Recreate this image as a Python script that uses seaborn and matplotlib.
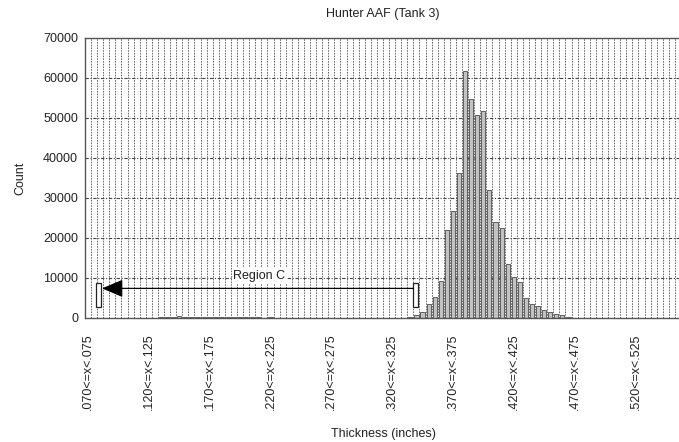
import numpy as np
import pandas as pd
import matplotlib
matplotlib.use("Agg")
import matplotlib.pyplot as plt
import seaborn as sns

# ---- data ----
bin_lows = [round(0.070 + 0.005 * i, 3) for i in range(98)]
bin_labels = [f"{lo:.3f}".lstrip("0") + "<=x<" + f"{lo + 0.005:.3f}".lstrip("0") for lo in bin_lows]

counts = (
    [0] * 12                                   # .070 - .125
    + [150, 300, 250, 400, 300, 250, 300, 200, 250,
       300, 250, 200, 250, 300, 200, 250, 150]  # .130 - .210
    + [0, 150]                                 # .215 - .220
    + [0] * 22                                 # .225 - .330
    + [300, 750, 1400, 3500, 5300, 9300, 22000, 26800, 36300, 61800,
       54800, 50700, 51750, 31900, 23900, 22400, 13400, 10200, 9100, 4900,
       3500, 3000, 1900, 1400, 900, 700, 200]  # .335 - .465
    + [0] * 18                                 # .470 - .555
)

shown_tick_every = 10
title = "Hunter AAF (Tank 3)"
xlabel = "Thickness (inches)"
ylabel = "Count"
region_label = "Region C"

df = pd.DataFrame({"bin": bin_labels, "count": counts})

# ---- style ----
sns.set_style("white")
plt.rcParams["font.family"] = ["Liberation Sans", "DejaVu Sans"]

W, H = 679, 442
fig = plt.figure(figsize=(W / 100, H / 100), dpi=100)
ax = fig.add_axes([85 / W, 1 - 318 / H, 596 / W, 280 / H])

sns.barplot(data=df, x="bin", y="count", ax=ax, color="#c2c2c2",
            edgecolor="#4a4a4a", linewidth=0.6, width=0.68, saturation=1)

n = len(bin_labels)
ax.set_xlim(-0.5, n - 0.5)
ax.set_ylim(0, 70000)
ax.set_yticks(np.arange(0, 70001, 10000))
ax.set_yticklabels([str(v) for v in range(0, 70001, 10000)], fontsize=9,
                   color="#222222")

major = list(range(0, n, shown_tick_every))
ax.set_xticks(major)
ax.set_xticklabels([bin_labels[i] for i in major], rotation=90, fontsize=9,
                   color="#222222")
ax.set_xticks(np.arange(-0.5, n, 1), minor=True)

# grid lines
for b in np.arange(0.5, n, 1):
    ax.axvline(b, color="#666666", lw=0.7, ls=(0, (1.6, 1.2)), zorder=0)
for yv in range(10000, 70000, 10000):
    ax.axhline(yv, color="#444444", lw=0.8, ls=(0, (3, 1.5, 1, 1.5)), zorder=0)

ax.tick_params(axis="y", which="major", length=3, width=0.8, color="#444444", pad=2)
ax.tick_params(axis="x", which="major", length=0, pad=11)
ax.tick_params(axis="x", which="minor", length=2, width=0.6, color="#444444")

for s in ["left", "bottom", "top"]:
    ax.spines[s].set_color("#555555")
    ax.spines[s].set_linewidth(1.0)
ax.spines["right"].set_visible(False)

ax.set_title(title, fontsize=9, pad=15, color="#222222")
ax.set_xlabel(xlabel, fontsize=9, labelpad=13, color="#222222")
ax.set_ylabel(ylabel, fontsize=9, labelpad=12, color="#222222")

# Region C annotation
from matplotlib.patches import Rectangle
for x0 in (1.35, 53.5):
    ax.add_patch(Rectangle((x0, 2750), 0.8, 6000, fill=True, facecolor="white",
                           edgecolor="#222222", lw=0.9, zorder=4))
ax.annotate("", xy=(2.3, 7400), xytext=(53.5, 7400),
            arrowprops=dict(arrowstyle="-|>,head_length=1.3,head_width=0.55",
                            color="black", lw=0.9, mutation_scale=10,
                            shrinkA=0, shrinkB=0), zorder=5)
ax.text(28.2, 10500, region_label, ha="center", va="center", fontsize=9,
        color="#222222", zorder=5,
        bbox=dict(boxstyle="square,pad=0.15", facecolor="white", edgecolor="none"))

fig.savefig("out.png", dpi=100)
